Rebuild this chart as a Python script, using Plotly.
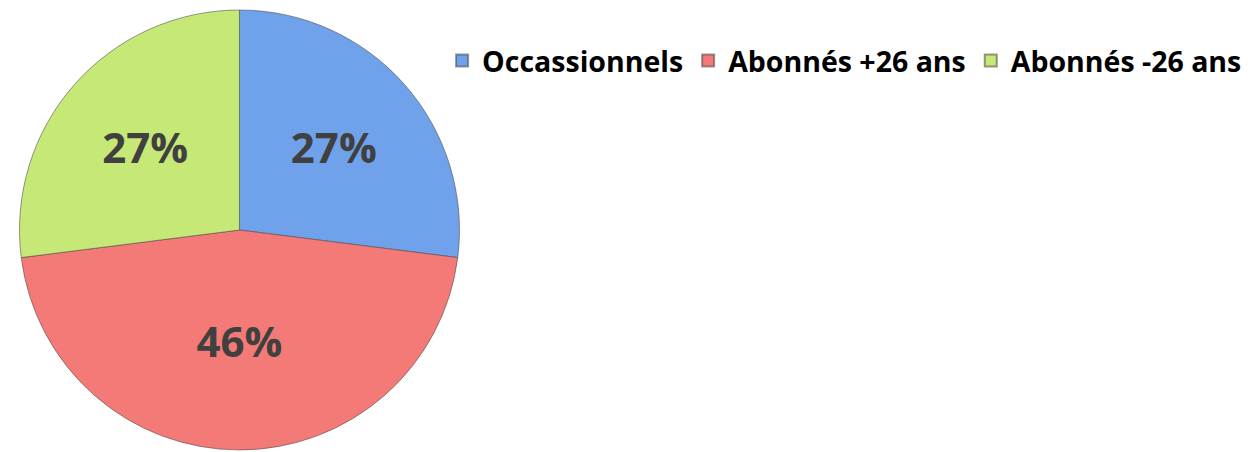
import plotly.graph_objects as go

# catégories et parts (en %)
categories = ['Occassionnels', 'Abonnés +26 ans', 'Abonnés -26 ans']
parts = [27, 46, 27]
couleurs = ['#70a2ec', '#f47a77', '#c6e877']

fig = go.Figure()

fig.add_trace(go.Pie(
    labels=categories,
    values=parts,
    sort=False,
    direction='clockwise',
    rotation=0,
    marker=dict(colors=couleurs, line=dict(color='rgba(70,70,70,0.55)', width=1)),
    texttemplate='%{percent:.0%}',
    textposition='inside',
    insidetextorientation='horizontal',
    textfont=dict(family='Open Sans', size=42, color='#404040', weight=700),
    hoverinfo='label+percent',
    domain=dict(x=[0.0088, 0.3613], y=[0, 1]),
))

# la page ajoute ~8 px de marge au body : on compense
fig.update_layout(
    width=1251,
    height=452,
    margin=dict(l=0, r=0, t=2, b=10),
    paper_bgcolor='white',
    plot_bgcolor='white',
    showlegend=True,
    legend=dict(
        orientation='h',
        x=0.347,
        xanchor='left',
        y=0.884,
        yanchor='middle',
        font=dict(family='Open Sans', size=28.5, color='black', weight=700),
        itemsizing='constant',
    ),
)

fig.write_html("out.html")
